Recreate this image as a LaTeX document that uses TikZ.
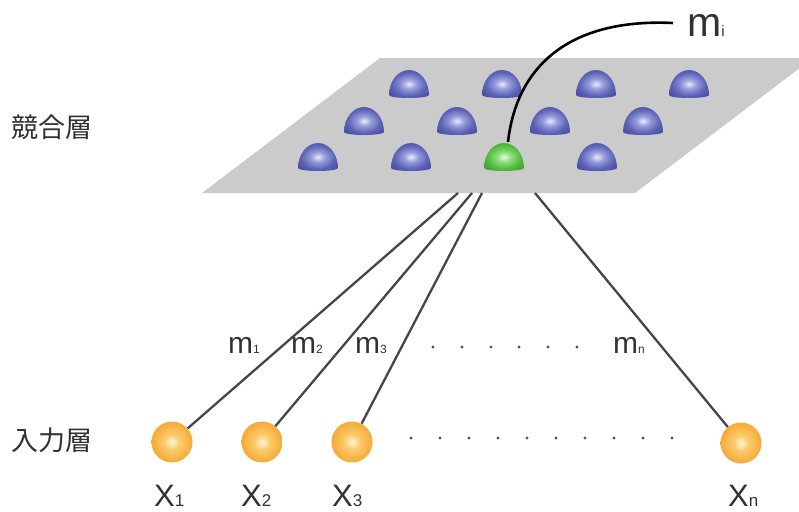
\documentclass[tikz,border=0pt]{standalone}
\usepackage{fontspec}
\setmainfont{Liberation Sans}
\newfontfamily\jpfont{Noto Sans CJK JP}

\definecolor{planegray}{RGB}{203,203,203}
\definecolor{inkgray}{RGB}{50,50,50}
\definecolor{linkgray}{RGB}{70,70,70}
\definecolor{dotgray}{RGB}{85,85,85}

\definecolor{bhi}{RGB}{232,234,252}
\definecolor{bm1}{RGB}{150,156,218}
\definecolor{bm2}{RGB}{92,98,182}
\definecolor{blo}{RGB}{62,67,152}
\definecolor{bedge}{RGB}{48,52,128}

\definecolor{ghi}{RGB}{230,252,220}
\definecolor{gm1}{RGB}{140,222,118}
\definecolor{gm2}{RGB}{82,186,60}
\definecolor{glo}{RGB}{50,152,40}
\definecolor{gedge}{RGB}{38,130,32}

\definecolor{ohi}{RGB}{255,246,222}
\definecolor{om1}{RGB}{251,204,108}
\definecolor{om2}{RGB}{245,172,58}
\definecolor{olo}{RGB}{237,151,36}
\definecolor{oedge}{RGB}{236,158,56}

\pgfdeclareradialshading{bluedome}{\pgfpoint{0bp}{0bp}}{%
  color(0bp)=(bhi); color(9bp)=(bm1); color(21bp)=(bm2); color(36bp)=(blo); color(50bp)=(bedge)}
\pgfdeclareradialshading{greendome}{\pgfpoint{0bp}{0bp}}{%
  color(0bp)=(ghi); color(9bp)=(gm1); color(21bp)=(gm2); color(36bp)=(glo); color(50bp)=(gedge)}
\pgfdeclareradialshading{orangeball}{\pgfpoint{0bp}{0bp}}{%
  color(0bp)=(ohi); color(9bp)=(om1); color(24bp)=(om2); color(42bp)=(olo); color(50bp)=(oedge)}

% label helpers: big letter followed by a small index on the same baseline
\newcommand\wlab[2]{{\fontsize{30}{30}\selectfont #1}{\fontsize{12}{12}\selectfont #2}}
\newcommand\xlab[2]{{\fontsize{31}{31}\selectfont #1}{\fontsize{17}{17}\selectfont #2}}

\tikzset{
  pics/dome/.style={code={
    \shade[shading=#1] (-20,0) arc[start angle=180, end angle=360, x radius=20, y radius=25]
                                 arc[start angle=0, end angle=180, x radius=20, y radius=3] -- cycle;}},
  inball/.style={circle, minimum size=41pt, inner sep=0pt, shade, shading=orangeball},
  link/.style={draw=linkgray, line width=2.3pt},
  pointer/.style={draw=black, line width=2.6pt},
  txt/.style={anchor=base west, inner sep=0pt, text=inkgray},
  layer/.style={inner sep=0pt, text=inkgray, font=\jpfont\fontsize{27}{27}\selectfont},
}

\begin{document}
\begin{tikzpicture}[x=1pt,y=-1pt]
\useasboundingbox (0,0) rectangle (799,511);

% competitive layer: the tilted plane
\begin{scope}
  \clip (0,0) rectangle (799,511);
  \fill[planegray] (202,193) -- (635,193) -- (813,58) -- (380,58) -- cycle;
\end{scope}

% units on the plane, back row to front row
\foreach \cx in {409,502,596,689} \pic at (\cx,95) {dome=bluedome};
\foreach \cx in {364,457,550,643} \pic at (\cx,132) {dome=bluedome};
\foreach \cx in {318,411,597} \pic at (\cx,168) {dome=bluedome};
\pic at (504,168) {dome=greendome};

% winning unit and its label
\coordinate (gtop) at (508,142);
\coordinate (mend) at (673,23);
\draw[pointer] (gtop) .. controls (516,70) and (565,18) .. (mend);
\node[txt] (mi) at (687,37) {{\fontsize{41}{41}\selectfont m}{\fontsize{15}{15}\selectfont i}};

% layer names
\node[layer] (comp) at (52,127) {競合層};
\node[layer] (inp) at (52,440) {入力層};

% attachment points on the front edge of the plane
\coordinate (p1) at (458,193);
\coordinate (p2) at (472,193);
\coordinate (p3) at (482,193);
\coordinate (pn) at (535,193);

% input units
\node[inball] (x1) at (172,442) {};
\node[inball] (x2) at (262,442) {};
\node[inball] (x3) at (352,442) {};
\node[inball] (xn) at (741,443) {};

\draw[link] (x1) -- (p1);
\draw[link] (x2) -- (p2);
\draw[link] (x3) -- (p3);
\draw[link] (xn) -- (pn);

% weight labels
\node[txt] (w1) at (228,353) {\wlab{m}{1}};
\node[txt] (w2) at (291,353) {\wlab{m}{2}};
\node[txt] (w3) at (355,353) {\wlab{m}{3}};
\node[txt] (wn) at (613,353) {\wlab{m}{n}};
\foreach \dx in {433,462,491,519,548,577} \fill[dotgray] (\dx,347) circle (1.6);

% input labels
\node[txt] (l1) at (154,506) {\xlab{X}{1}};
\node[txt] (l2) at (241,506) {\xlab{X}{2}};
\node[txt] (l3) at (332,506) {\xlab{X}{3}};
\node[txt] (ln) at (728,506) {\xlab{X}{n}};
\foreach \k in {0,...,9} \fill[dotgray] (411+29*\k,438) circle (1.6);
\end{tikzpicture}
\end{document}
